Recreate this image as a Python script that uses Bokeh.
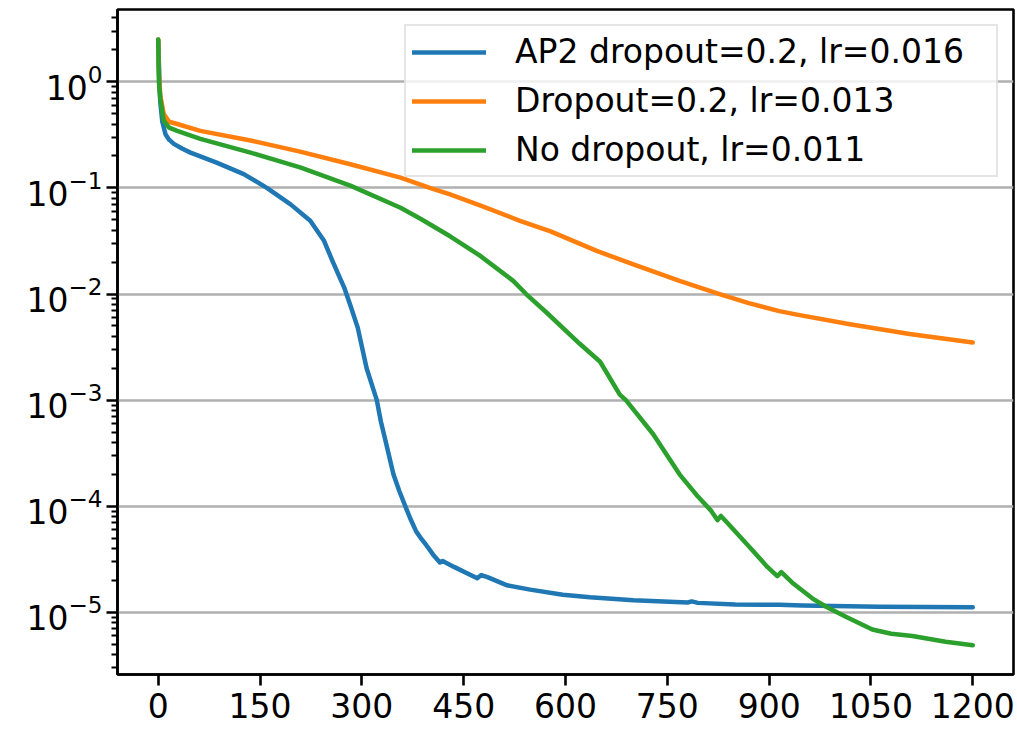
from bokeh.plotting import figure
from bokeh.models import FixedTicker, LogTickFormatter
from bokeh.embed import file_html
from bokeh.resources import INLINE

# ---- data ----
ap2_x = [0, 1, 2, 3, 6, 10.7, 16, 23, 35, 47.5, 86, 126, 160, 195, 224, 244, 256, 266,
         274, 284, 294, 307, 322, 328, 335, 346.5, 355, 364, 372, 380, 388, 395, 405, 415,
         419, 435, 470, 476, 485, 514, 548, 596, 636, 700, 780, 786, 795, 850, 915, 949,
         1062, 1200]
ap2_y = [2.45, 1.5, 0.9, 0.65, 0.42, 0.32, 0.285, 0.26, 0.235, 0.215, 0.173, 0.135, 0.1,
         0.07, 0.049, 0.032, 0.021, 0.015, 0.0115, 0.0075, 0.0048, 0.002, 0.001, 6.3e-4,
         4.1e-4, 2.0e-4, 1.4e-4, 1.0e-4, 7.5e-5, 5.8e-5, 4.9e-5, 4.3e-5, 3.5e-5, 2.95e-5,
         3.05e-5, 2.7e-5, 2.1e-5, 2.25e-5, 2.15e-5, 1.8e-5, 1.64e-5, 1.47e-5, 1.39e-5,
         1.3e-5, 1.24e-5, 1.27e-5, 1.23e-5, 1.19e-5, 1.18e-5, 1.16e-5, 1.13e-5, 1.12e-5]

drop_x = [0, 1, 3, 8, 16, 28, 62, 136, 209, 283, 357, 400, 430, 475, 533, 578, 646, 700,
          768, 827, 870, 915, 941, 1019, 1107, 1200]
drop_y = [2.5, 1.2, 0.75, 0.5, 0.42, 0.40, 0.345, 0.28, 0.22, 0.167, 0.125, 0.1, 0.087,
          0.068, 0.049, 0.039, 0.0255, 0.019, 0.0133, 0.01, 0.0082, 0.0069, 0.0064,
          0.0052, 0.0042, 0.0035]

nodrop_x = [0, 1, 3, 8, 16, 28, 62, 136, 209, 283, 357, 387, 430, 474, 523, 542, 572,
            621, 651, 680, 689, 729, 768, 793, 815, 824, 829, 840, 870, 897, 912, 918,
            936, 964, 984, 1013, 1052, 1080, 1111, 1160, 1200]
nodrop_y = [2.5, 1.0, 0.7, 0.43, 0.37, 0.345, 0.29, 0.215, 0.156, 0.105, 0.065, 0.051,
            0.035, 0.023, 0.0133, 0.01, 0.0067, 0.0034, 0.0023, 0.00113, 1.0e-3, 4.8e-4,
            2.0e-4, 1.28e-4, 9.0e-5, 7.4e-5, 8.1e-5, 6.8e-5, 4.2e-5, 2.7e-5, 2.2e-5,
            2.4e-5, 1.86e-5, 1.35e-5, 1.13e-5, 9.1e-6, 6.9e-6, 6.3e-6, 6.0e-6, 5.3e-6,
            4.9e-6]

labels = ["AP2 dropout=0.2, lr=0.016", "Dropout=0.2, lr=0.013", "No dropout, lr=0.011"]
colors = ["#1f77b4", "#ff7f0e", "#2ca02c"]
x_ticks = [0, 150, 300, 450, 600, 750, 900, 1050, 1200]
y_ticks = [1e-5, 1e-4, 1e-3, 1e-2, 1e-1, 1e0]

FONT = "DejaVu Sans"
FS = "33px"

p = figure(width=1017, height=731, x_range=(-60, 1260), y_range=(2.6e-6, 4.8),
           y_axis_type="log", output_backend="svg", toolbar_location=None,
           min_border_left=117, min_border_right=4, min_border_top=9, min_border_bottom=57)
p.background_fill_color = "white"
p.border_fill_color = "white"
p.outline_line_color = "black"
p.outline_line_width = 2.6

for xs, ys, lab, col in zip([ap2_x, drop_x, nodrop_x], [ap2_y, drop_y, nodrop_y], labels, colors):
    p.line(xs, ys, line_color=col, line_width=4.5, legend_label=lab,
           line_join="round", line_cap="round")

minor = [k * 10.0 ** e for e in range(-6, 1) for k in range(2, 10)]
p.yaxis.ticker = FixedTicker(ticks=y_ticks, minor_ticks=minor)
p.yaxis.formatter = LogTickFormatter()
p.xaxis.ticker = FixedTicker(ticks=x_ticks)

for ax in (p.xaxis, p.yaxis):
    ax.axis_line_width = 2.6
    ax.axis_line_color = "black"
    ax.major_tick_line_width = 2.6
    ax.major_tick_line_color = "black"
    ax.major_tick_out = 11
    ax.major_tick_in = 0
    ax.major_label_text_font = FONT
    ax.major_label_text_font_size = FS
    ax.major_label_text_color = "black"

p.xaxis.minor_tick_line_color = None
p.xaxis.major_label_standoff = 7
p.yaxis.minor_tick_line_width = 1.9
p.yaxis.minor_tick_line_color = "black"
p.yaxis.minor_tick_out = 6
p.yaxis.minor_tick_in = 0
p.yaxis.major_label_standoff = 4

p.xgrid.grid_line_color = None
p.ygrid.grid_line_color = "#b0b0b0"
p.ygrid.grid_line_width = 2.6

lg = p.legend[0]
lg.location = "top_right"
lg.margin = 15
lg.padding = 6
lg.spacing = 10
lg.label_height = 34
lg.glyph_height = 34
lg.glyph_width = 74
lg.label_standoff = 29
lg.label_width = 475
lg.label_text_font = FONT
lg.label_text_font_size = FS
lg.label_text_color = "black"
lg.border_line_color = "#cccccc"
lg.border_line_width = 2.6
lg.background_fill_color = "white"
lg.background_fill_alpha = 0.8

open("out.html", "w").write(file_html(p, INLINE))
